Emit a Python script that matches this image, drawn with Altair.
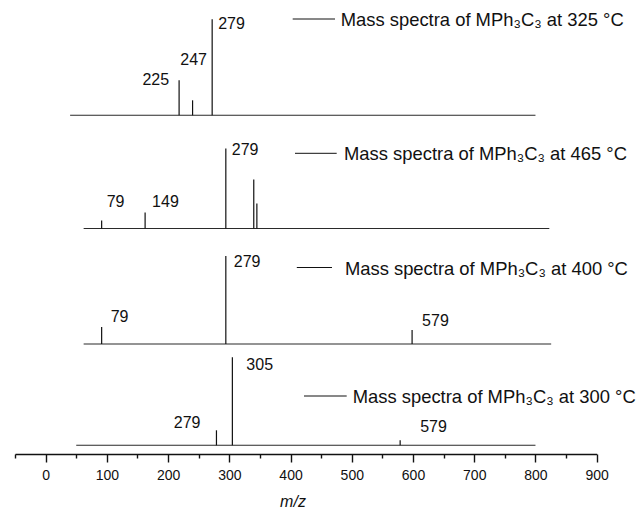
import altair as alt
import pandas as pd

FONT = "Liberation Sans"

# Spectra from top to bottom, identified by recording temperature (°C)
TEMPS = ["325", "465", "400", "300"]

# Peak positions (m/z) and peak intensities (arbitrary units) of each spectrum
MZ_325 = [225, 247, 279]
INT_325 = [35, 15, 96]

MZ_465 = [79, 149, 279, 324, 329]
INT_465 = [8, 16, 80, 49, 25]

MZ_400 = [79, 279, 579]
INT_400 = [17, 88, 14]

MZ_300 = [279, 305, 579]
INT_300 = [15, 88, 5]

# Peaks annotated with their m/z value
LABELS_325 = [225, 247, 279]
LABELS_465 = [79, 149, 279]
LABELS_400 = [79, 279, 579]
LABELS_300 = [279, 305, 579]

# Scanned m/z range of each spectrum
SCAN_325 = [47, 807]
SCAN_465 = [50, 800]
SCAN_400 = [50, 803]
SCAN_300 = [50, 800]

# m/z axis ticks (every 50, labelled every 100)
AXIS_TICKS = list(range(-50, 901, 50))

SPECTRA = {
    "325": (MZ_325, INT_325, LABELS_325, SCAN_325),
    "465": (MZ_465, INT_465, LABELS_465, SCAN_465),
    "400": (MZ_400, INT_400, LABELS_400, SCAN_400),
    "300": (MZ_300, INT_300, LABELS_300, SCAN_300),
}

# Stacking: vertical offset of each trace and the calibration (gain, shift)
# that places its m/z values on the common axis
STACK = {
    "325": dict(offset=338.7, gain=1.0, shift=-7.0),
    "465": dict(offset=225.5, gain=1.014, shift=11.4),
    "400": dict(offset=110.0, gain=1.014, shift=11.4),
    "300": dict(offset=8.7, gain=1.0, shift=0.0),
}

# Label placement relative to the top of its peak: (align, dx, dy)
LABEL_STYLE = {
    ("325", 225): ("right", -10, 0),
    ("325", 247): ("center", 1, -40),
    ("325", 279): ("left", 6, 5),
    ("465", 79): ("left", 5, -19),
    ("465", 149): ("left", 7, -11),
    ("465", 279): ("left", 6, 1),
    ("400", 79): ("left", 9, -10),
    ("400", 279): ("left", 8, 6),
    ("400", 579): ("left", 10, -9),
    ("300", 279): ("right", -16, -7),
    ("300", 305): ("left", 14, 8),
    ("300", 579): ("left", 20, -13),
}

# Key line (x0, x1, y) and caption anchor (x, baseline y) for each trace, in pixels
KEY_STYLE = {
    "325": (277.7, 320.0, 19.0, 325.7, 26.0),
    "465": (280.0, 321.7, 153.3, 329.0, 160.3),
    "400": (281.8, 317.0, 267.5, 329.9, 274.5),
    "300": (289.0, 331.7, 396.0, 337.7, 403.0),
}

PLOT_W, PLOT_H = 581.7, 454

peak_rows, base_rows = [], []
for t in TEMPS:
    mzs, ints, labelled, scan = SPECTRA[t]
    s = STACK[t]
    for mz, val in zip(mzs, ints):
        peak_rows.append(dict(temp=t, mz=mz, label=str(mz),
                              x=s["gain"] * mz + s["shift"],
                              y=s["offset"], y2=s["offset"] + val))
    base_rows.append(dict(temp=t, x=s["gain"] * scan[0] + s["shift"],
                          x2=s["gain"] * scan[1] + s["shift"], y=s["offset"]))

peaks_df = pd.DataFrame(peak_rows)
base_df = pd.DataFrame(base_rows)

xscale = alt.Scale(domain=[-50, 900], nice=False, zero=False)
yscale = alt.Scale(domain=[0, PLOT_H], nice=False, zero=False)

xaxis = alt.Axis(
    values=AXIS_TICKS,
    labelExpr="datum.value % 100 === 0 ? datum.label : ''",
    labelOverlap=False, labelFlush=False,
    labelFont=FONT, labelFontSize=14, labelColor="#111", labelPadding=6,
    tickSize={"condition": {"test": "datum.value % 100 === 0", "value": 8}, "value": 4},
    tickWidth=1.4, tickColor="#111",
    domainColor="#111", domainWidth=1.6,
    grid=False,
    title="m/z", titleFont=FONT, titleFontSize=16, titleFontStyle="italic",
    titleFontWeight="normal", titleColor="#111",
    titleX=277.5, titleY=52.7, titleAlign="center", titleBaseline="alphabetic",
)

X = alt.X("x:Q", scale=xscale, axis=xaxis)
Y = alt.Y("y:Q", scale=yscale, axis=None)

baselines = alt.Chart(base_df).mark_rule(color="#2a2a2a", strokeWidth=1.1).encode(
    x=X, x2="x2:Q", y=Y
)

peaks = alt.Chart(peaks_df).mark_rule(color="#111", strokeWidth=1.2).encode(
    x=X, y=Y, y2="y2:Q"
)

layers = [baselines, peaks]

for t in TEMPS:
    for mz in SPECTRA[t][2]:
        align, dx, dy = LABEL_STYLE[(t, mz)]
        layers.append(
            alt.Chart(peaks_df)
            .transform_filter((alt.datum.temp == t) & (alt.datum.mz == mz))
            .mark_text(font=FONT, fontSize=16, color="#111", align=align,
                       baseline="middle", dx=dx, dy=dy)
            .encode(x=X, y=alt.Y("y2:Q", scale=yscale, axis=None), text="label:N")
        )

for t in TEMPS:
    x0, x1, ly, tx, ty = KEY_STYLE[t]
    layers.append(
        alt.Chart(base_df).transform_filter(alt.datum.temp == t)
        .mark_rule(color="#111", strokeWidth=1.0)
        .encode(x=alt.value(x0), x2=alt.value(x1), y=alt.value(ly))
    )
    layers.append(
        alt.Chart(base_df).transform_filter(alt.datum.temp == t)
        .mark_text(font=FONT, fontSize=18.4, color="#111", align="left",
                   baseline="alphabetic")
        .encode(x=alt.value(tx), y=alt.value(ty),
                text=alt.value(f"Mass spectra of MPh\u2083C\u2083 at {t} \u00b0C"))
    )

chart = (
    alt.layer(*layers)
    .properties(
        width=PLOT_W, height=PLOT_H,
        autosize=alt.AutoSizeParams(type="none"),
        padding={"left": 15, "top": 0, "right": 637 - 15 - PLOT_W, "bottom": 509 - PLOT_H},
        background="white",
    )
    .configure_view(stroke=None)
)

chart.save("out.html", embed_options={"renderer": "svg", "actions": False})
